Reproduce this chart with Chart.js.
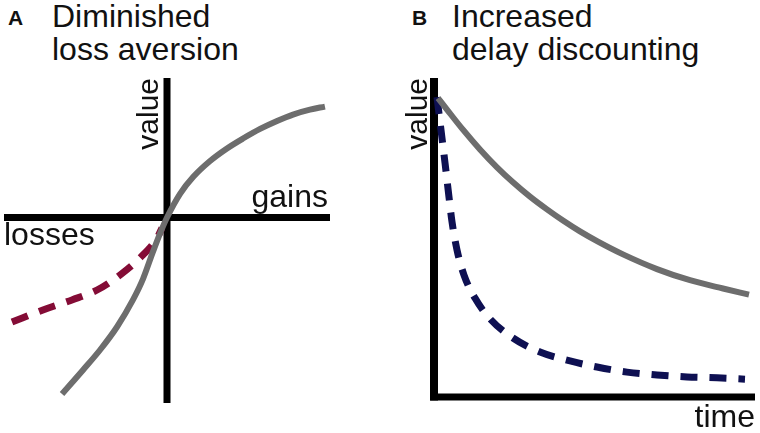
<!DOCTYPE html>
<html>
<head>
<meta charset="utf-8">
<script src="https://cdn.jsdelivr.net/npm/chart.js@4.4.0/dist/chart.umd.min.js"></script>
<style>
body{margin:0;background:#fff;width:760px;height:433px;overflow:hidden;position:relative;font-family:"Liberation Sans",Arial,sans-serif;color:#111}
.panel{position:absolute;top:0}
.letter{position:absolute;top:7px;font-weight:bold;font-size:21px;line-height:21px}
.title{position:absolute;top:0;font-size:32px;line-height:33px;white-space:nowrap}
</style>
</head>
<body>

<div class="letter" style="left:8px">A</div>
<div class="title" style="left:52px">Diminished<br>loss aversion</div>
<div class="letter" style="left:412px">B</div>
<div class="title" style="left:452px">Increased<br>delay discounting</div>

<div class="panel" style="left:0"><canvas id="chartA" width="340" height="433"></canvas></div>
<div class="panel" style="left:380px"><canvas id="chartB" width="380" height="433"></canvas></div>

<script>
// panel A: value function (losses / gains)
let aGrayX=[-0.644,-0.515,-0.411,-0.307,-0.209,-0.147,-0.086,-0.043,0,0.080,0.160,0.264,0.368,0.466,0.571,0.675,0.773,0.877,0.969]
let aGrayY=[-1.265,-1.093,-0.950,-0.785,-0.591,-0.440,-0.245,-0.115,0,0.170,0.290,0.405,0.495,0.566,0.635,0.692,0.738,0.773,0.795]
let aRedX=[-0.951,-0.761,-0.583,-0.429,-0.288,-0.166,-0.061,-0.031]
let aRedY=[-0.749,-0.663,-0.591,-0.520,-0.412,-0.290,-0.147,-0.075]
let aLabels=["value","gains","losses"]

// panel B: value over time
let bGrayX=[0.125,0.405,0.903,1.433,1.963,2.461,2.991,3.520,4.019,4.548,5.109,5.888,6.947,7.975,9.003,9.813]
let bGrayY=[0.937,0.901,0.838,0.776,0.720,0.673,0.628,0.588,0.553,0.519,0.487,0.447,0.401,0.366,0.340,0.321]
let bNavyX=[0.093,0.218,0.343,0.467,0.561,0.717,0.935,1.277,1.745,2.461,3.302,4.237,5.078,6.012,6.947,7.882,8.816,9.688]
let bNavyY=[0.940,0.837,0.734,0.627,0.549,0.461,0.382,0.310,0.245,0.185,0.141,0.113,0.094,0.078,0.069,0.063,0.060,0.056]
let bLabels=["value","time"]

let gray="#6d6d6d"
let red="#840c36"
let navy="#0e1052"

function pts(xs,ys){
return xs.map((x,i)=>({x:x,y:ys[i]}))
}

function curve(data,color,width,dash){
return {
data:data,
borderColor:color,
borderWidth:width,
borderDash:dash||[],
borderCapStyle:"butt",
pointRadius:0,
tension:0.4,
cubicInterpolationMode:"monotone",
order:1
}
}

function axisLine(data,width){
return {
data:data,
borderColor:"#000",
borderWidth:width,
borderCapStyle:"butt",
pointRadius:0,
tension:0,
order:3
}
}

// axis words drawn at positions taken from the scales
let axisWords={
id:"axisWords",
afterDatasetsDraw(chart,args,opts){
let ctx=chart.ctx
let xs=chart.scales.x
let ys=chart.scales.y
let area=chart.chartArea
ctx.save()
ctx.fillStyle="#111"
opts.items.forEach(it=>{
ctx.font=it.size+'px "Liberation Sans", Arial, sans-serif'
let px=it.ref==="zeroX"?xs.getPixelForValue(0):(it.ref==="right"?area.right:area.left)
let py=it.yref==="zeroY"?ys.getPixelForValue(0):(it.yref==="bottom"?area.bottom:area.top)
px+=it.dx
py+=it.dy
ctx.save()
ctx.translate(px,py)
if(it.rotate) ctx.rotate(-Math.PI/2)
ctx.textAlign=it.align
ctx.textBaseline="alphabetic"
ctx.fillText(it.text,0,0)
ctx.restore()
})
ctx.restore()
}
}

function baseOptions(pad,xMin,xMax,yMin,yMax,items){
return {
responsive:false,
animation:false,
layout:{padding:pad},
plugins:{legend:{display:false},tooltip:{enabled:false},axisWords:{items:items}},
scales:{
x:{type:"linear",display:false,min:xMin,max:xMax},
y:{type:"linear",display:false,min:yMin,max:yMax}
},
elements:{line:{fill:false}},
clip:false
}
}

new Chart(document.getElementById("chartA"),{
type:"line",
data:{datasets:[
curve(pts(aGrayX,aGrayY),gray,6),
curve(pts(aRedX,aRedY),red,7,[17,12]),
axisLine([{x:-1,y:0},{x:1,y:0}],7),
axisLine([{x:0,y:1},{x:0,y:-1.33}],7)
]},
options:baseOptions({left:4,right:10,top:78,bottom:30},-1,1,-1.33,1,[
{text:aLabels[0],size:30,ref:"zeroX",yref:"top",dx:-9,dy:0,align:"right",rotate:true},
{text:aLabels[1],size:32,ref:"right",yref:"zeroY",dx:-2,dy:-10,align:"right"},
{text:aLabels[2],size:32,ref:"left",yref:"zeroY",dx:0,dy:28,align:"left"}
]),
plugins:[axisWords]
})

new Chart(document.getElementById("chartB"),{
type:"line",
data:{datasets:[
curve(pts(bGrayX,bGrayY),gray,6),
curve(pts(bNavyX,bNavyY),navy,7,[17,12]),
axisLine([{x:-0.12,y:0},{x:10,y:0}],7),
axisLine([{x:0,y:1},{x:0,y:-0.011}],8)
]},
options:baseOptions({left:54,right:5,top:78,bottom:36},0,10,0,1,[
{text:bLabels[0],size:30,ref:"zeroX",yref:"top",dx:-7,dy:0,align:"right",rotate:true},
{text:bLabels[1],size:32,ref:"right",yref:"bottom",dx:0,dy:30,align:"right"}
]),
plugins:[axisWords]
})
</script>
</body>
</html>
